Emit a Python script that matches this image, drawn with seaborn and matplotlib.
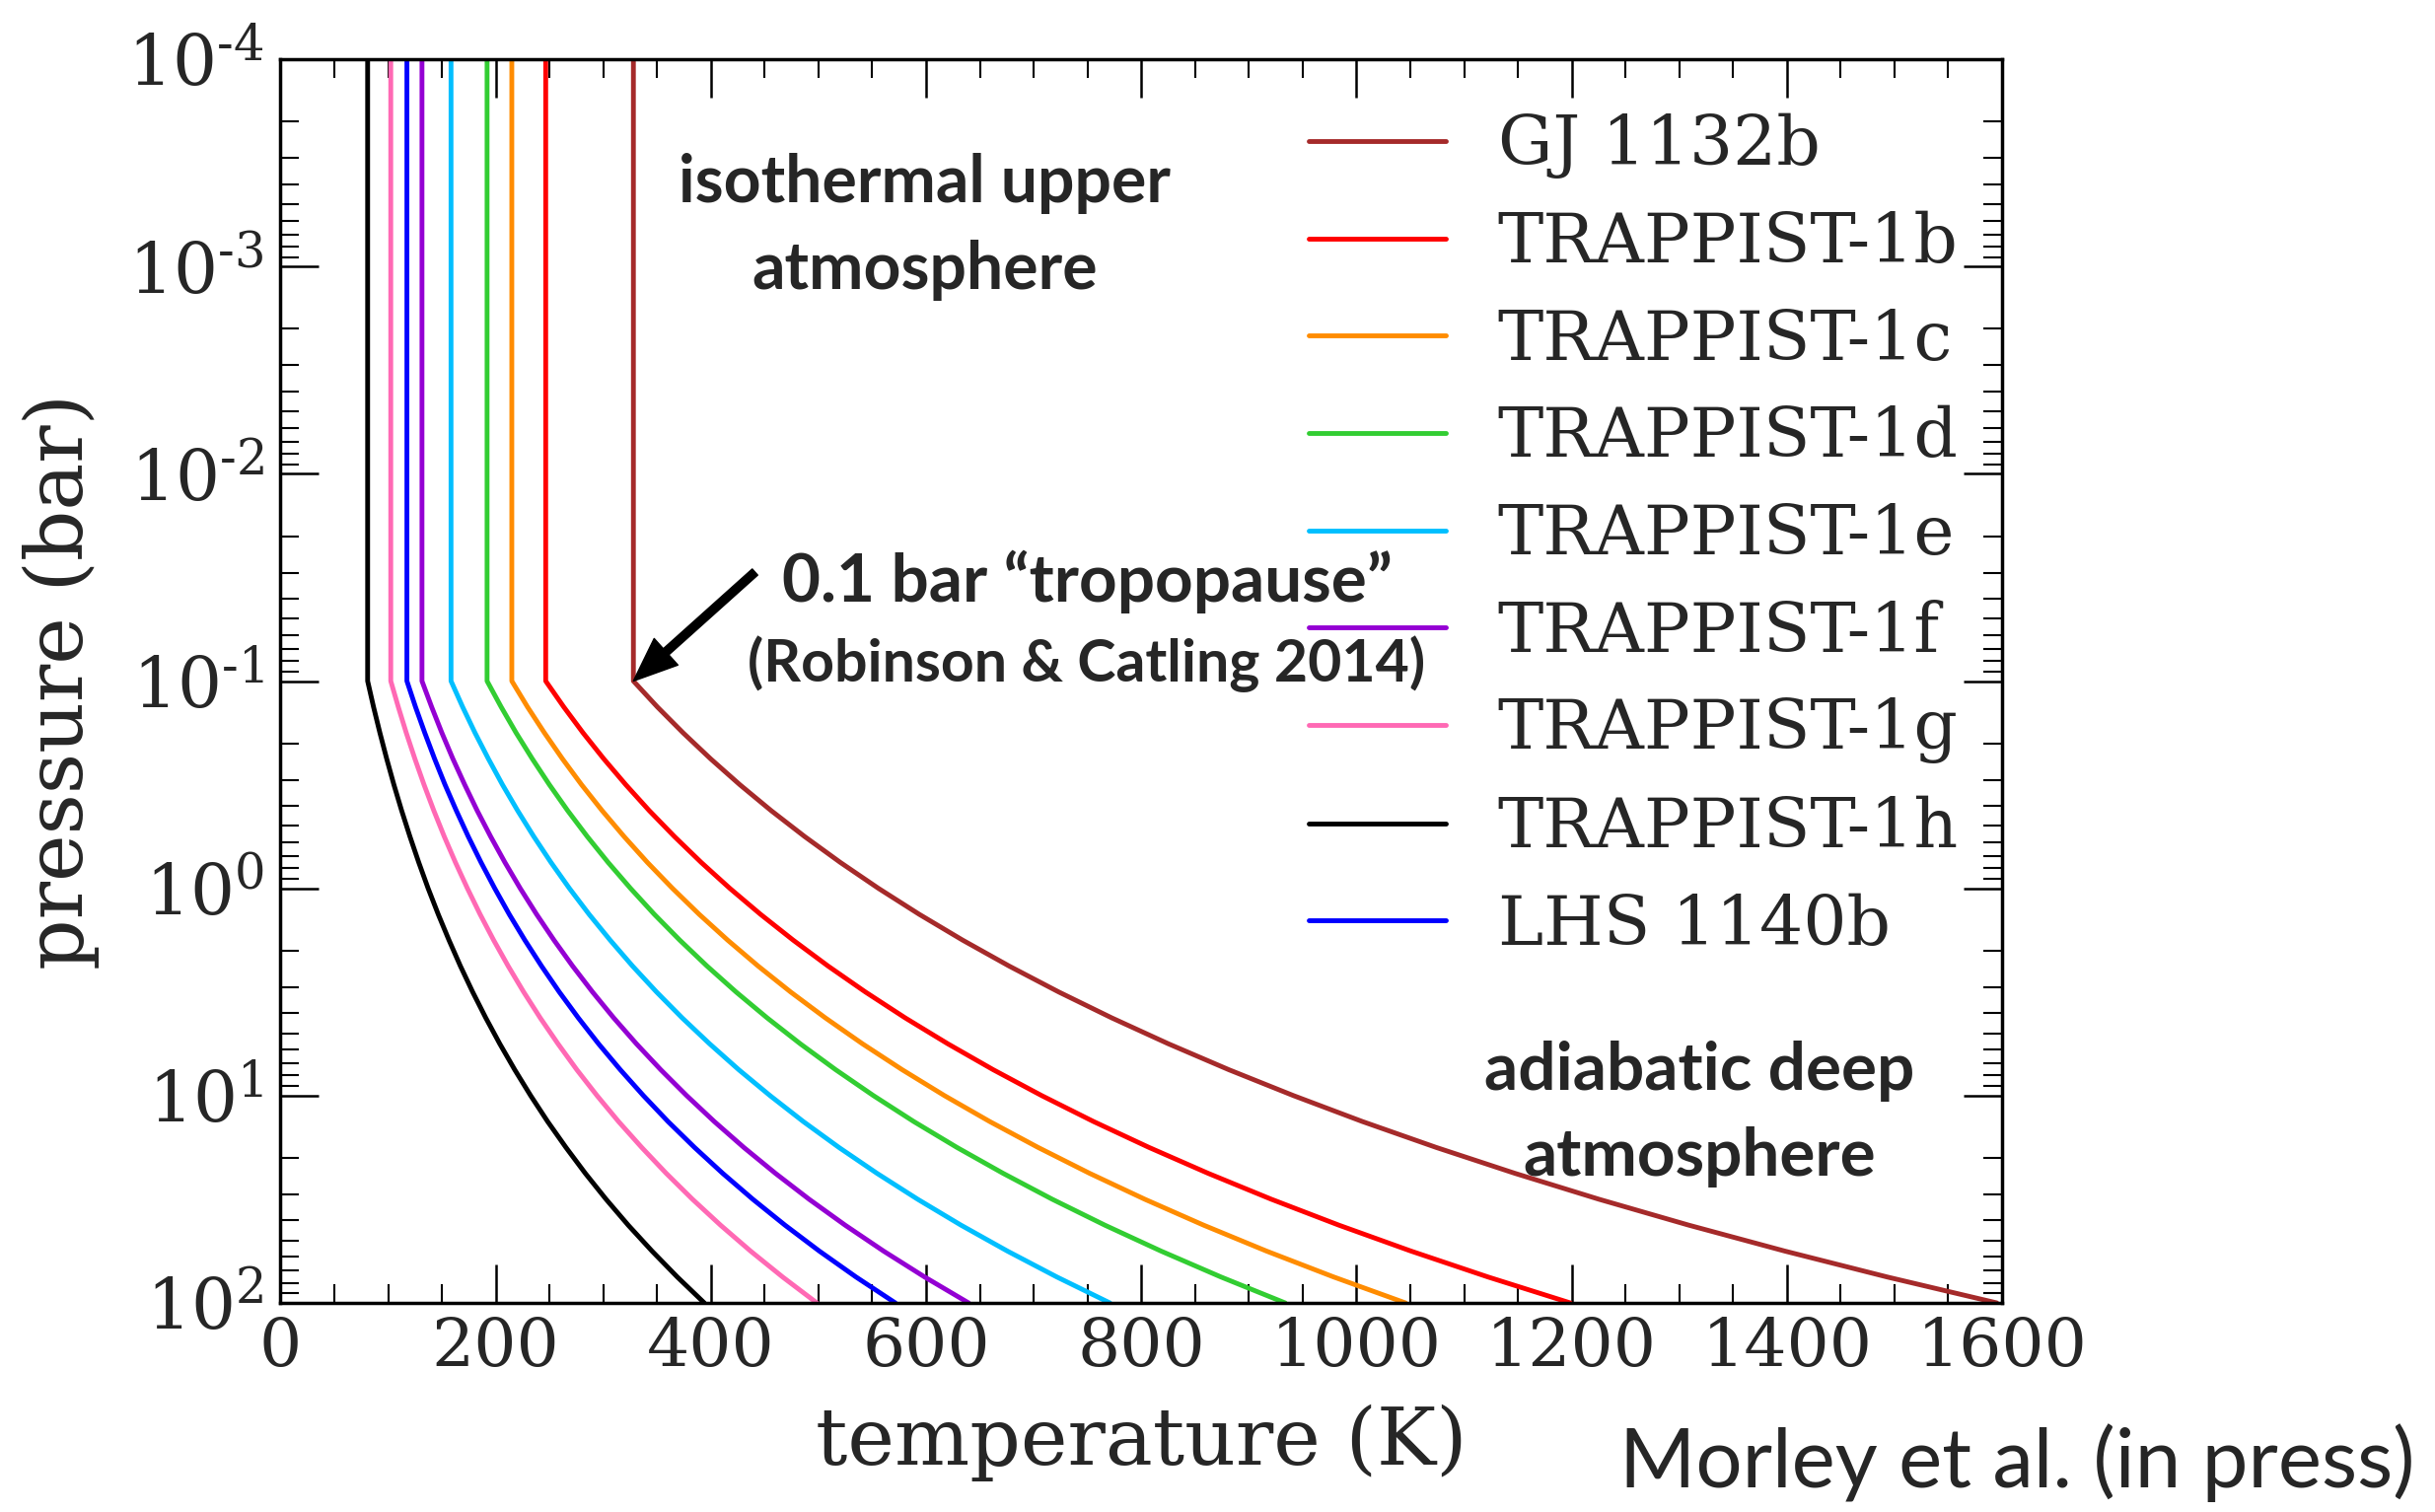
import numpy as np
import pandas as pd
import matplotlib
matplotlib.use("Agg")
import matplotlib.pyplot as plt
import seaborn as sns
from matplotlib.ticker import MultipleLocator, LogLocator, FixedLocator, FixedFormatter, NullFormatter
from matplotlib.lines import Line2D

# ---------------- data ----------------
planets = ["GJ 1132b", "TRAPPIST-1b", "TRAPPIST-1c", "TRAPPIST-1d", "TRAPPIST-1e",
           "TRAPPIST-1f", "TRAPPIST-1g", "TRAPPIST-1h", "LHS 1140b"]
colors = ["brown", "red", "darkorange", "limegreen", "deepskyblue",
          "darkviolet", "hotpink", "black", "blue"]

pressure_bar = [1e-4, 0.1, 0.1334, 0.1778, 0.2371, 0.3162, 0.4217, 0.5623, 0.7499,
                1.0, 1.334, 1.778, 2.371, 3.162, 4.217, 5.623, 7.499,
                10.0, 13.34, 17.78, 23.71, 31.62, 42.17, 56.23, 74.99, 100.0]

temp_gj1132b = [328, 328, 350.3, 374.2, 399.7, 426.9, 456.0, 487.1, 520.3, 555.7, 593.6,
                634.0, 677.2, 723.3, 772.6, 825.2, 881.4, 941.5, 1005.6, 1074.1, 1147.3,
                1225.4, 1308.9, 1398.1, 1493.3, 1595.1]
temp_t1b = [246.5, 246.5, 263.3, 281.2, 300.4, 320.9, 342.7, 366.1, 391.0, 417.6, 446.1,
            476.5, 508.9, 543.6, 580.6, 620.2, 662.4, 707.5, 755.7, 807.2, 862.2,
            920.9, 983.7, 1050.7, 1122.3, 1198.7]
temp_t1c = [215, 215, 229.6, 245.3, 262.0, 279.8, 298.9, 319.3, 341.0, 364.3, 389.1,
            415.6, 443.9, 474.1, 506.4, 540.9, 577.8, 617.1, 659.2, 704.1, 752.0,
            803.3, 858.0, 916.4, 978.9, 1045.5]
temp_t1d = [192, 192, 205.1, 219.0, 234.0, 249.9, 266.9, 285.1, 304.5, 325.3, 347.4,
            371.1, 396.4, 423.4, 452.3, 483.1, 516.0, 551.1, 588.6, 628.7, 671.6,
            717.3, 766.2, 818.4, 874.1, 933.7]
temp_t1e = [158.5, 158.5, 169.3, 180.8, 193.2, 206.3, 220.4, 235.4, 251.4, 268.5, 286.8,
            306.4, 327.2, 349.5, 373.3, 398.8, 425.9, 455.0, 485.9, 519.0, 554.4,
            592.2, 632.5, 675.6, 721.6, 770.8]
temp_t1f = [131.5, 131.5, 140.5, 150.0, 160.2, 171.2, 182.8, 195.3, 208.6, 222.8, 238.0,
            254.2, 271.5, 290.0, 309.7, 330.8, 353.4, 377.5, 403.2, 430.6, 460.0,
            491.3, 524.8, 560.5, 598.7, 639.5]
temp_t1g = [102.5, 102.5, 109.5, 116.9, 124.9, 133.4, 142.5, 152.2, 162.6, 173.7, 185.5,
            198.1, 211.6, 226.0, 241.4, 257.9, 275.4, 294.2, 314.2, 335.7, 358.5,
            382.9, 409.0, 436.9, 466.7, 498.5]
temp_t1h = [81, 81, 86.5, 92.4, 98.7, 105.4, 112.6, 120.3, 128.5, 137.2, 146.6,
            156.6, 167.2, 178.6, 190.8, 203.8, 217.7, 232.5, 248.3, 265.3, 283.3,
            302.6, 323.2, 345.3, 368.8, 393.9]
temp_lhs1140b = [117.5, 117.5, 125.5, 134.1, 143.2, 152.9, 163.4, 174.5, 186.4, 199.1, 212.6,
                 227.1, 242.6, 259.1, 276.8, 295.6, 315.8, 337.3, 360.2, 384.8, 411.0,
                 439.0, 468.9, 500.8, 534.9, 571.4]

temps = [temp_gj1132b, temp_t1b, temp_t1c, temp_t1d, temp_t1e,
         temp_t1f, temp_t1g, temp_t1h, temp_lhs1140b]

xticks = [0, 200, 400, 600, 800, 1000, 1200, 1400, 1600]
yticks = [1e-4, 1e-3, 1e-2, 1e-1, 1e0, 1e1, 1e2]
ytick_labels = [r"$10^{\text{-}4}$", r"$10^{\text{-}3}$", r"$10^{\text{-}2}$", r"$10^{\text{-}1}$",
                r"$10^{0}$", r"$10^{1}$", r"$10^{2}$"]

rows = []
for name, tlist in zip(planets, temps):
    for t, p in zip(tlist, pressure_bar):
        rows.append({"planet": name, "T": t, "P": p})
df = pd.DataFrame(rows)

# ---------------- style ----------------
sns.set_style("ticks")
plt.rcParams["font.family"] = ["DejaVu Serif"]
plt.rcParams["mathtext.fontset"] = "dejavuserif"

W, H = 2469, 1533
fig = plt.figure(figsize=(W / 100, H / 100), dpi=100)
ax_left, ax_right, ax_top, ax_bot = 284.4, 2030, 60, 1321
ax = fig.add_axes([ax_left / W, 1 - ax_bot / H, (ax_right - ax_left) / W, (ax_bot - ax_top) / H])

LW = 3.5
palette = dict(zip(planets, colors))
sns.lineplot(data=df, x="T", y="P", hue="planet", hue_order=planets, palette=palette,
             sort=False, estimator=None, units="planet", lw=LW, legend=False, ax=ax)

ax.set_yscale("log")
ax.set_xlim(0, 1600)
ax.set_ylim(100, 1e-4)

ax.xaxis.set_major_locator(FixedLocator(xticks))
ax.xaxis.set_minor_locator(MultipleLocator(50))
ax.yaxis.set_major_locator(FixedLocator(yticks))
ax.yaxis.set_major_formatter(FixedFormatter(ytick_labels))
ax.yaxis.set_minor_locator(LogLocator(base=10, subs=np.arange(2, 10), numticks=20))
ax.yaxis.set_minor_formatter(NullFormatter())

ax.tick_params(which="both", direction="in", top=True, right=True, color="black")
ax.tick_params(which="major", length=28, width=1.8, labelsize=49)
ax.tick_params(axis="y", which="major", labelsize=51)
ax.tick_params(which="minor", length=14, width=1.5)
ax.tick_params(axis="x", which="major", pad=9)
ax.tick_params(axis="y", which="major", pad=12)

for s in ax.spines.values():
    s.set_linewidth(2.5)
    s.set_color("black")

ax.set_xlabel("temperature (K)", fontsize=58, labelpad=18)
ax.set_ylabel("pressure (bar)", fontsize=58, labelpad=20)

# legend
handles = [Line2D([0], [0], color=c, lw=LW) for c in colors]
ax.legend(handles, planets, loc="upper left", bbox_to_anchor=(1327 / W, 1 - 115 / H),
          bbox_transform=fig.transFigure, frameon=False, fontsize=50,
          handlelength=2.0, handletextpad=0.76, labelspacing=0.465,
          borderpad=0, borderaxespad=0)

# annotations
def axfrac(px, py):
    return ((px - ax_left) / (ax_right - ax_left), 1 - (py - ax_top) / (ax_bot - ax_top))

sans = ["Lato", "DejaVu Sans"]
for txt, (px, py), fs in [("isothermal upper", (938, 186), 47.5),
                          ("atmosphere", (938, 274), 47.5),
                          ("0.1 bar \u201ctropopause\u201d", (1102, 590), 48.5),
                          ("(Robinson & Catling 2014)", (1102, 673), 42.5),
                          ("adiabatic deep", (1723, 1086), 48.5),
                          ("atmosphere", (1723, 1173), 48.5)]:
    ax.text(*axfrac(px, py), txt, transform=ax.transAxes, ha="center", va="center",
            fontsize=fs, fontweight="bold", family=sans)

ax.annotate("", xy=(328, 0.1), xytext=(441, 0.0298),
            arrowprops=dict(facecolor="black", edgecolor="black", width=6,
                            headwidth=26, headlength=32, shrink=0))

fig.text(2449 / W, 1 - 1508 / H, "Morley et al. (in press)", ha="right", va="baseline",
         fontsize=60, family=sans)

fig.savefig("out.png", dpi=100)
